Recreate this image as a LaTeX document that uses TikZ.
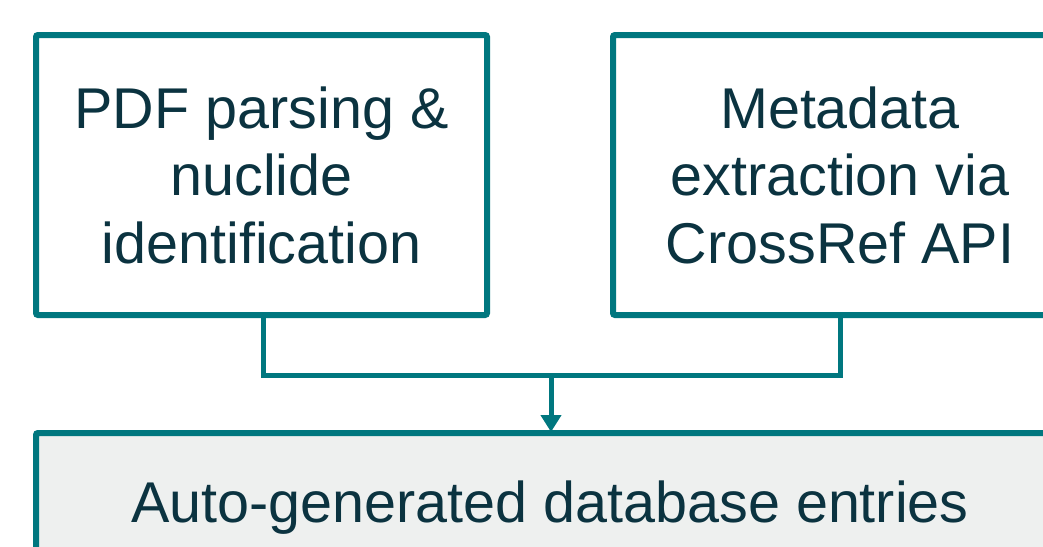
\documentclass[tikz,border=0pt]{standalone}
\usepackage{fontspec}
\setmainfont{Liberation Sans}
\usetikzlibrary{arrows.meta,calc}
\definecolor{teal1}{HTML}{00777F}
\definecolor{boxfill}{HTML}{EEF0EF}
\definecolor{txt}{HTML}{0B3340}
\begin{document}
\begin{tikzpicture}[x=1pt,y=-1pt,
  stagebox/.style={draw=teal1, line width=6pt, rounded corners=2pt, align=center,
    text=txt, font=\fontsize{57.5}{67.5}\selectfont, inner sep=0pt, outer sep=0pt},
  conn/.style={draw=teal1, line width=5pt}]
\useasboundingbox (0,0) rectangle (1043,546);
\clip (0,0) rectangle (1043,546);
\node[stagebox, minimum width=451pt, minimum height=280pt] (left) at (261.5,175)
  {PDF parsing \&\\nuclide\\identification};
\node[stagebox, minimum width=454pt, minimum height=280pt] (right) at (840,175)
  {Metadata\\extraction via\\CrossRef API};
\node[stagebox, fill=boxfill, minimum width=1028pt, minimum height=150pt] (bottom) at (550,508)
  {Auto-generated database entries};
\coordinate (j) at (551,375.5);
\draw[conn] ($(left.south)+(1.5,0)$) |- (j) -| (right.south);
\draw[conn, -{Triangle[width=20pt,length=17pt]}] (j) -- ($(j |- bottom.north)+(0,-1)$);
\end{tikzpicture}
\end{document}
